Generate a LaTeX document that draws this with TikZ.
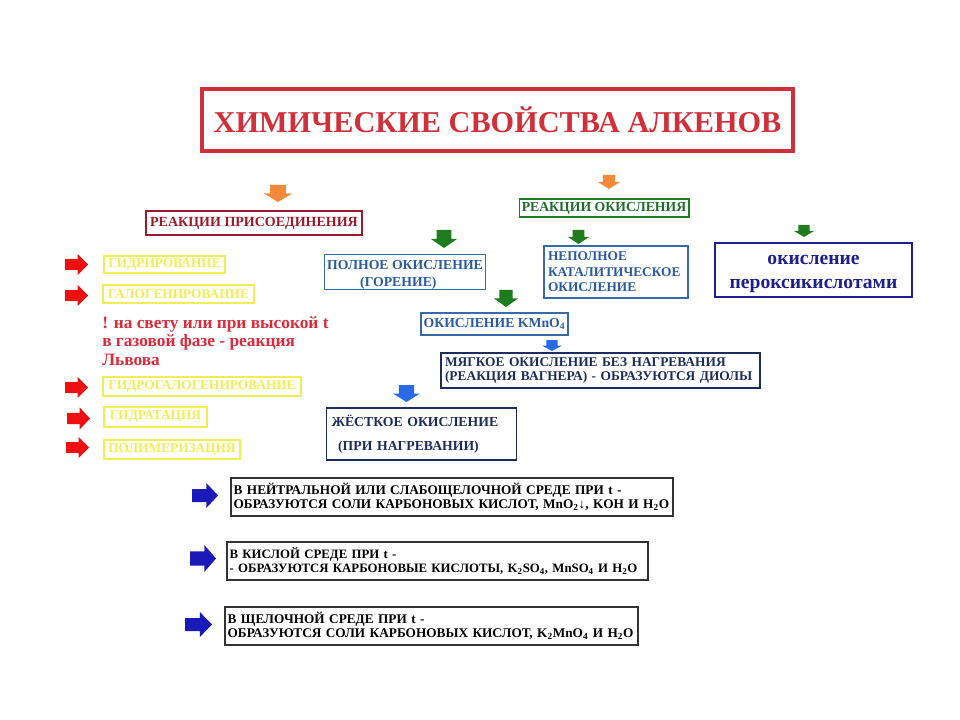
\documentclass[tikz,border=0pt]{standalone}
\usepackage{fontspec}
\setmainfont{Liberation Serif}
\definecolor{titred}{HTML}{D0303A}
\definecolor{dkred}{HTML}{9A1A2A}
\definecolor{dkgreen}{HTML}{1F6E2C}
\definecolor{arrgreen}{HTML}{1E7B1E}
\definecolor{orng}{HTML}{F28A3A}
\definecolor{bluebox}{HTML}{3A6AA6}
\definecolor{bluetxt}{HTML}{2A5BA2}
\definecolor{navy}{HTML}{1E1E8C}
\definecolor{lblue}{HTML}{2A6AE6}
\definecolor{redarr}{HTML}{EE1010}
\definecolor{yel}{HTML}{F0EE50}
\definecolor{redtxt}{HTML}{DC2A3A}
\definecolor{darkarr}{HTML}{1A1AB8}
\definecolor{navytxt}{HTML}{1C2C5C}
\tikzset{
  downarr/.pic={\fill[pic actions] (-0.28,0) -- (0.28,0) -- (0.28,0.5) -- (0.5,0.5) -- (0,1) -- (-0.5,0.5) -- (-0.28,0.5) -- cycle;},
  rightarr/.pic={\fill[pic actions] (0,-0.26) -- (0.55,-0.26) -- (0.55,-0.5) -- (1,0) -- (0.55,0.5) -- (0.55,0.26) -- (0,0.26) -- cycle;},
  bx/.style={draw, line width=0.9pt, inner xsep=2pt, inner ysep=0pt},
  yelbox/.style={draw=yel, line width=0.9pt, text=yel, inner sep=0pt, font=\fontsize{10}{12}\selectfont\bfseries},
  bluebx/.style={bx, draw=bluebox, text=bluetxt, font=\fontsize{10.3}{12.75}\selectfont\bfseries},
  blackbx/.style={bx, draw=black!80, text=black, align=left, font=\fontsize{9.95}{10.2}\selectfont\bfseries},
}
\begin{document}
\begin{tikzpicture}[x=0.75pt,y=-0.75pt]
\useasboundingbox (0,0) rectangle (960,720);
% title
\node[draw=titred, line width=3pt, minimum width=443pt, minimum height=46pt, text=titred,
  font=\fontsize{22.7}{27}\selectfont\bfseries] (title) at (497.5,120) {ХИМИЧЕСКИЕ СВОЙСТВА АЛКЕНОВ};
% orange arrows
\pic[fill=orng, xscale=28, yscale=17] at (278,185) {downarr};
\pic[fill=orng, xscale=22, yscale=14] at (609,175) {downarr};
% main boxes
\node[bx, draw=dkred, text=dkred, minimum width=162pt, minimum height=18pt,
  font=\fontsize{10.5}{12}\selectfont\bfseries] (prisoed) at (254,223) {РЕАКЦИИ ПРИСОЕДИНЕНИЯ};
\node[bx, draw=arrgreen, text=dkgreen, minimum width=126pt, minimum height=13.5pt,
  font=\fontsize{10.3}{12}\selectfont\bfseries] (okisl) at (604,208) {РЕАКЦИИ ОКИСЛЕНИЯ};
% green arrows
\pic[fill=arrgreen, xscale=26, yscale=18] at (444,230) {downarr};
\pic[fill=arrgreen, xscale=21, yscale=14] at (578.5,230) {downarr};
\pic[fill=arrgreen, xscale=20, yscale=12] at (804,225) {downarr};
\pic[fill=arrgreen, xscale=24, yscale=17] at (506,290) {downarr};
% oxidation boxes
\node[bluebx, minimum width=118.5pt, minimum height=25.5pt, align=center] (polnoe) at (405,272)
  {\rule{0pt}{11.3pt}ПОЛНОЕ ОКИСЛЕНИЕ\\(ГОРЕНИЕ)\hspace*{10pt}};
\node[bluebx, inner xsep=3pt, text width=102pt, minimum height=39pt, align=left,
  font=\fontsize{10}{11.6}\selectfont\bfseries] (nepolnoe) at (616,272)
  {НЕПОЛНОЕ\\КАТАЛИТИЧЕСКОЕ\\ОКИСЛЕНИЕ};
\node[bx, draw=navy, text=navy, minimum width=147.75pt, minimum height=40.5pt, align=center,
  font=\fontsize{14.7}{18}\selectfont\bfseries] (perox) at (813.5,270) {\rule{0pt}{13pt}окисление\\пероксикислотами};
\node[bluebx, minimum width=110.25pt, minimum height=16.5pt] (kmno4) at (494.5,324)
  {ОКИСЛЕНИЕ KMnO\textsubscript{4}};
\pic[fill=lblue, xscale=20, yscale=11] at (552,340) {downarr};
\node[bx, draw=navytxt, text=navytxt, inner xsep=3pt, text width=233.25pt, minimum height=26.25pt, align=left,
  font=\fontsize{10.05}{10.5}\selectfont\bfseries] (myagk) at (600.5,370.5)
  {МЯГКОЕ ОКИСЛЕНИЕ БЕЗ НАГРЕВАНИЯ\\(РЕАКЦИЯ ВАГНЕРА) - ОБРАЗУЮТСЯ ДИОЛЫ};
\pic[fill=lblue, xscale=27, yscale=17] at (406.5,385) {downarr};
\node[bx, draw=navytxt, text=navytxt, inner xsep=4pt, text width=135pt, minimum height=39pt, align=left,
  font=\fontsize{10.3}{18}\selectfont\bfseries] (zhestk) at (421.5,434)
  {ЖЁСТКОЕ ОКИСЛЕНИЕ\\\hspace*{5pt}(ПРИ НАГРЕВАНИИ)};
% addition reactions
\pic[fill=redarr, xscale=23, yscale=21] at (65,264.5) {rightarr};
\pic[fill=redarr, xscale=23, yscale=21] at (65,295.5) {rightarr};
\pic[fill=redarr, xscale=23, yscale=21] at (65,387.5) {rightarr};
\pic[fill=redarr, xscale=23, yscale=22] at (67,418.5) {rightarr};
\pic[fill=redarr, xscale=23, yscale=21] at (66,447.5) {rightarr};
\node[yelbox, minimum width=90.75pt, minimum height=12.75pt] (gidr) at (164.5,264.5) {ГИДРИРОВАНИЕ};
\node[yelbox, minimum width=113.25pt, minimum height=13.5pt] (galog) at (178.5,294) {ГАЛОГЕНИРОВАНИЕ};
\node[anchor=north west, align=left, inner sep=0pt, text=redtxt,
  font=\fontsize{13}{14}\selectfont\bfseries] (note) at (102,316)
  {! на свету или при высокой t\\в газовой фазе - реакция\\Львова};
\node[yelbox, minimum width=148.5pt, minimum height=14.25pt] (gidrogal) at (202,386.5) {ГИДРОГАЛОГЕНИРОВАНИЕ};
\node[yelbox, minimum width=77.25pt, minimum height=15pt] (gidrat) at (155.5,417) {ГИДРАТАЦИЯ};
\node[yelbox, minimum width=102pt, minimum height=14.25pt] (polim) at (172,449.5) {ПОЛИМЕРИЗАЦИЯ};
% KMnO4 media
\pic[fill=darkarr, xscale=26, yscale=25] at (192,495.5) {rightarr};
\pic[fill=darkarr, xscale=26, yscale=27] at (190,558.5) {rightarr};
\pic[fill=darkarr, xscale=27, yscale=25] at (185,624.5) {rightarr};
\node[blackbx, text width=327.5pt, minimum height=28.5pt] (b1) at (452,497)
  {В НЕЙТРАЛЬНОЙ ИЛИ СЛАБОЩЕЛОЧНОЙ СРЕДЕ ПРИ t -\\ОБРАЗУЮТСЯ СОЛИ КАРБОНОВЫХ КИСЛОТ, MnO\textsubscript{2}↓, KOH И H\textsubscript{2}O};
\node[blackbx, text width=311.75pt, minimum height=28.5pt, font=\fontsize{9.6}{10.2}\selectfont\bfseries] (b2) at (437.5,561)
  {В КИСЛОЙ СРЕДЕ ПРИ t -\\- ОБРАЗУЮТСЯ КАРБОНОВЫЕ КИСЛОТЫ, K\textsubscript{2}SO\textsubscript{4}, MnSO\textsubscript{4} И H\textsubscript{2}O};
\node[blackbx, text width=305.75pt, minimum height=28.5pt] (b3) at (431.5,626)
  {В ЩЕЛОЧНОЙ СРЕДЕ ПРИ t -\\ОБРАЗУЮТСЯ СОЛИ КАРБОНОВЫХ КИСЛОТ, K\textsubscript{2}MnO\textsubscript{4} И H\textsubscript{2}O};
\end{tikzpicture}
\end{document}
